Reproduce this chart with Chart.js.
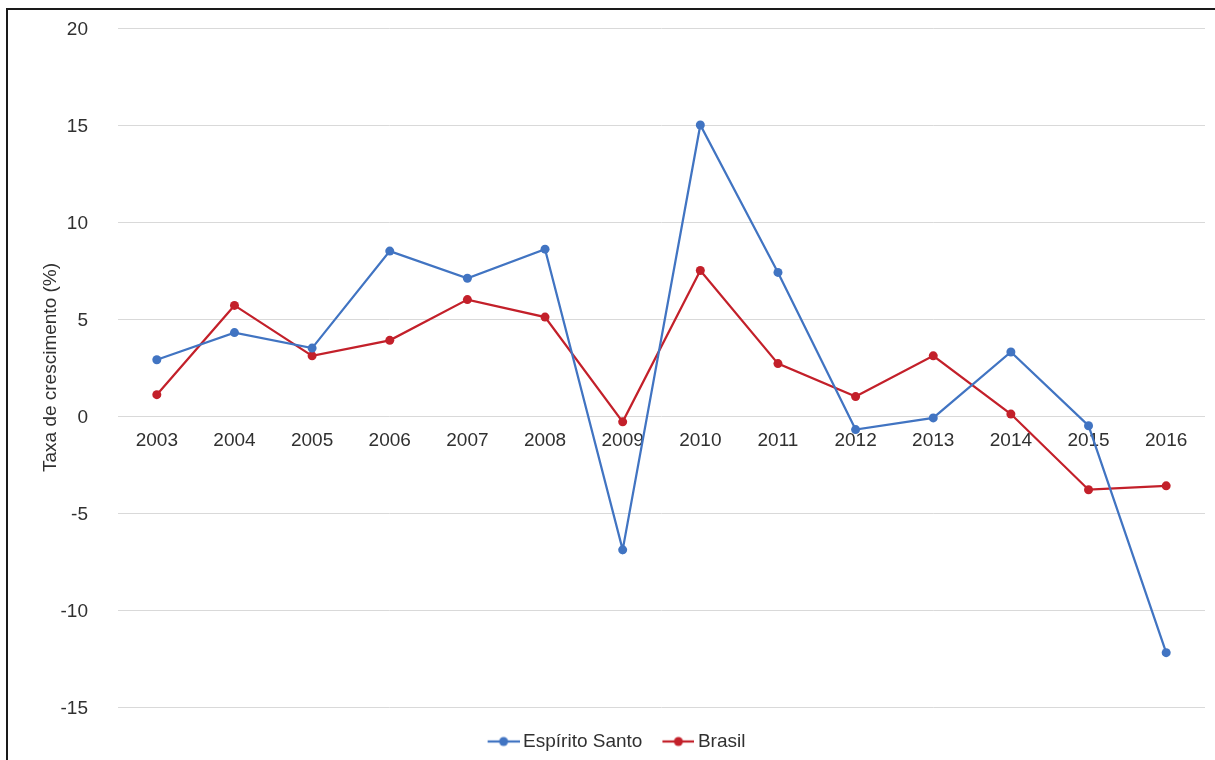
<!DOCTYPE html>
<html>
<head>
<meta charset="utf-8">
<script src="https://cdn.jsdelivr.net/npm/chart.js@4/dist/chart.umd.min.js"></script>
<style>
  html, body { margin: 0; padding: 0; background: #fff; }
  #wrap { position: relative; width: 1215px; height: 760px; overflow: hidden; }
  #c { position: absolute; left: 0; top: 0; }
  .rule { position: absolute; background: #1a1a1a; }
</style>
</head>
<body>
<div id="wrap">
  <canvas id="c" width="1215" height="760"></canvas>
  <div class="rule" style="left:6px; top:8px; width:1209px; height:2px;"></div>
  <div class="rule" style="left:6px; top:8px; width:2px; height:752px;"></div>
</div>
<script>
// Taxa de crescimento anual do PIB (%)
const years = ['2003','2004','2005','2006','2007','2008','2009','2010','2011','2012','2013','2014','2015','2016'];
const espiritoSanto = [2.9, 4.3, 3.5, 8.5, 7.1, 8.6, -6.9, 15.0, 7.4, -0.7, -0.1, 3.3, -0.5, -12.2];
const brasil = [1.1, 5.7, 3.1, 3.9, 6.0, 5.1, -0.3, 7.5, 2.7, 1.0, 3.1, 0.1, -3.8, -3.6];
const yTicks = [20, 15, 10, 5, 0, -5, -10, -15];

const BLUE = '#4174c2';
const RED = '#c3202a';
const TEXT = '#303030';
const GRID = '#d9d9d9';
const FONT = '"Liberation Sans", Arial, Helvetica, sans-serif';

// legend marker: short line with a dot, left-padded so the text sits close
function legendMarker(color) {
  const cv = document.createElement('canvas');
  cv.width = 44; cv.height = 14;
  const g = cv.getContext('2d');
  g.strokeStyle = color; g.lineWidth = 2.25;
  g.beginPath(); g.moveTo(12, 7); g.lineTo(44, 7); g.stroke();
  g.fillStyle = color;
  g.beginPath(); g.arc(28, 7, 4.5, 0, Math.PI * 2); g.fill();
  return cv;
}
const markers = [legendMarker(BLUE), legendMarker(RED)];

// nudge the legend block right and down inside its layout box
const legendShift = {
  id: 'legendShift',
  afterLayout(chart) {
    const lg = chart.legend;
    if (lg) { lg.left += 22; lg.top += 11; lg.bottom += 11; }
  }
};

new Chart(document.getElementById('c'), {
  type: 'line',
  data: {
    labels: years,
    datasets: [
      { label: 'Espírito Santo', data: espiritoSanto, borderColor: BLUE, backgroundColor: BLUE,
        borderWidth: 2.25, pointRadius: 4.5, pointBorderWidth: 0, tension: 0 },
      { label: 'Brasil', data: brasil, borderColor: RED, backgroundColor: RED,
        borderWidth: 2.25, pointRadius: 4.5, pointBorderWidth: 0, tension: 0 }
    ]
  },
  options: {
    responsive: false,
    animation: false,
    layout: { padding: { top: 28, right: 10, bottom: 10, left: 0 } },
    plugins: {
      tooltip: { enabled: false },
      legend: {
        position: 'bottom',
        labels: {
          usePointStyle: true,
          pointStyleWidth: 32,
          padding: 14,
          color: TEXT,
          font: { family: FONT, size: 19 },
          generateLabels(chart) {
            const items = Chart.defaults.plugins.legend.labels.generateLabels(chart);
            items.forEach((it, i) => { it.pointStyle = markers[i]; });
            return items;
          }
        }
      }
    },
    scales: {
      x: {
        position: { y: 0 },
        offset: true,
        grid: { display: false, drawTicks: false },
        border: { display: false },
        ticks: { color: TEXT, font: { family: FONT, size: 19 }, padding: 13, maxRotation: 0 }
      },
      y: {
        min: Math.min(...yTicks),
        max: Math.max(...yTicks),
        afterFit(scale) { scale.width = 118; },
        afterBuildTicks(scale) { scale.ticks = yTicks.map(v => ({ value: v })); },
        grid: { color: GRID, lineWidth: 1, drawTicks: true, tickLength: 30, tickColor: 'rgba(0,0,0,0)' },
        border: { display: false },
        ticks: { color: TEXT, font: { family: FONT, size: 19 }, padding: 0, labelOffset: 1.5 },
        title: {
          display: true,
          text: 'Taxa de crescimento (%)',
          color: TEXT,
          font: { family: FONT, size: 19 },
          padding: { top: 39, bottom: 0 }
        }
      }
    }
  },
  plugins: [legendShift]
});
</script>
</body>
</html>
